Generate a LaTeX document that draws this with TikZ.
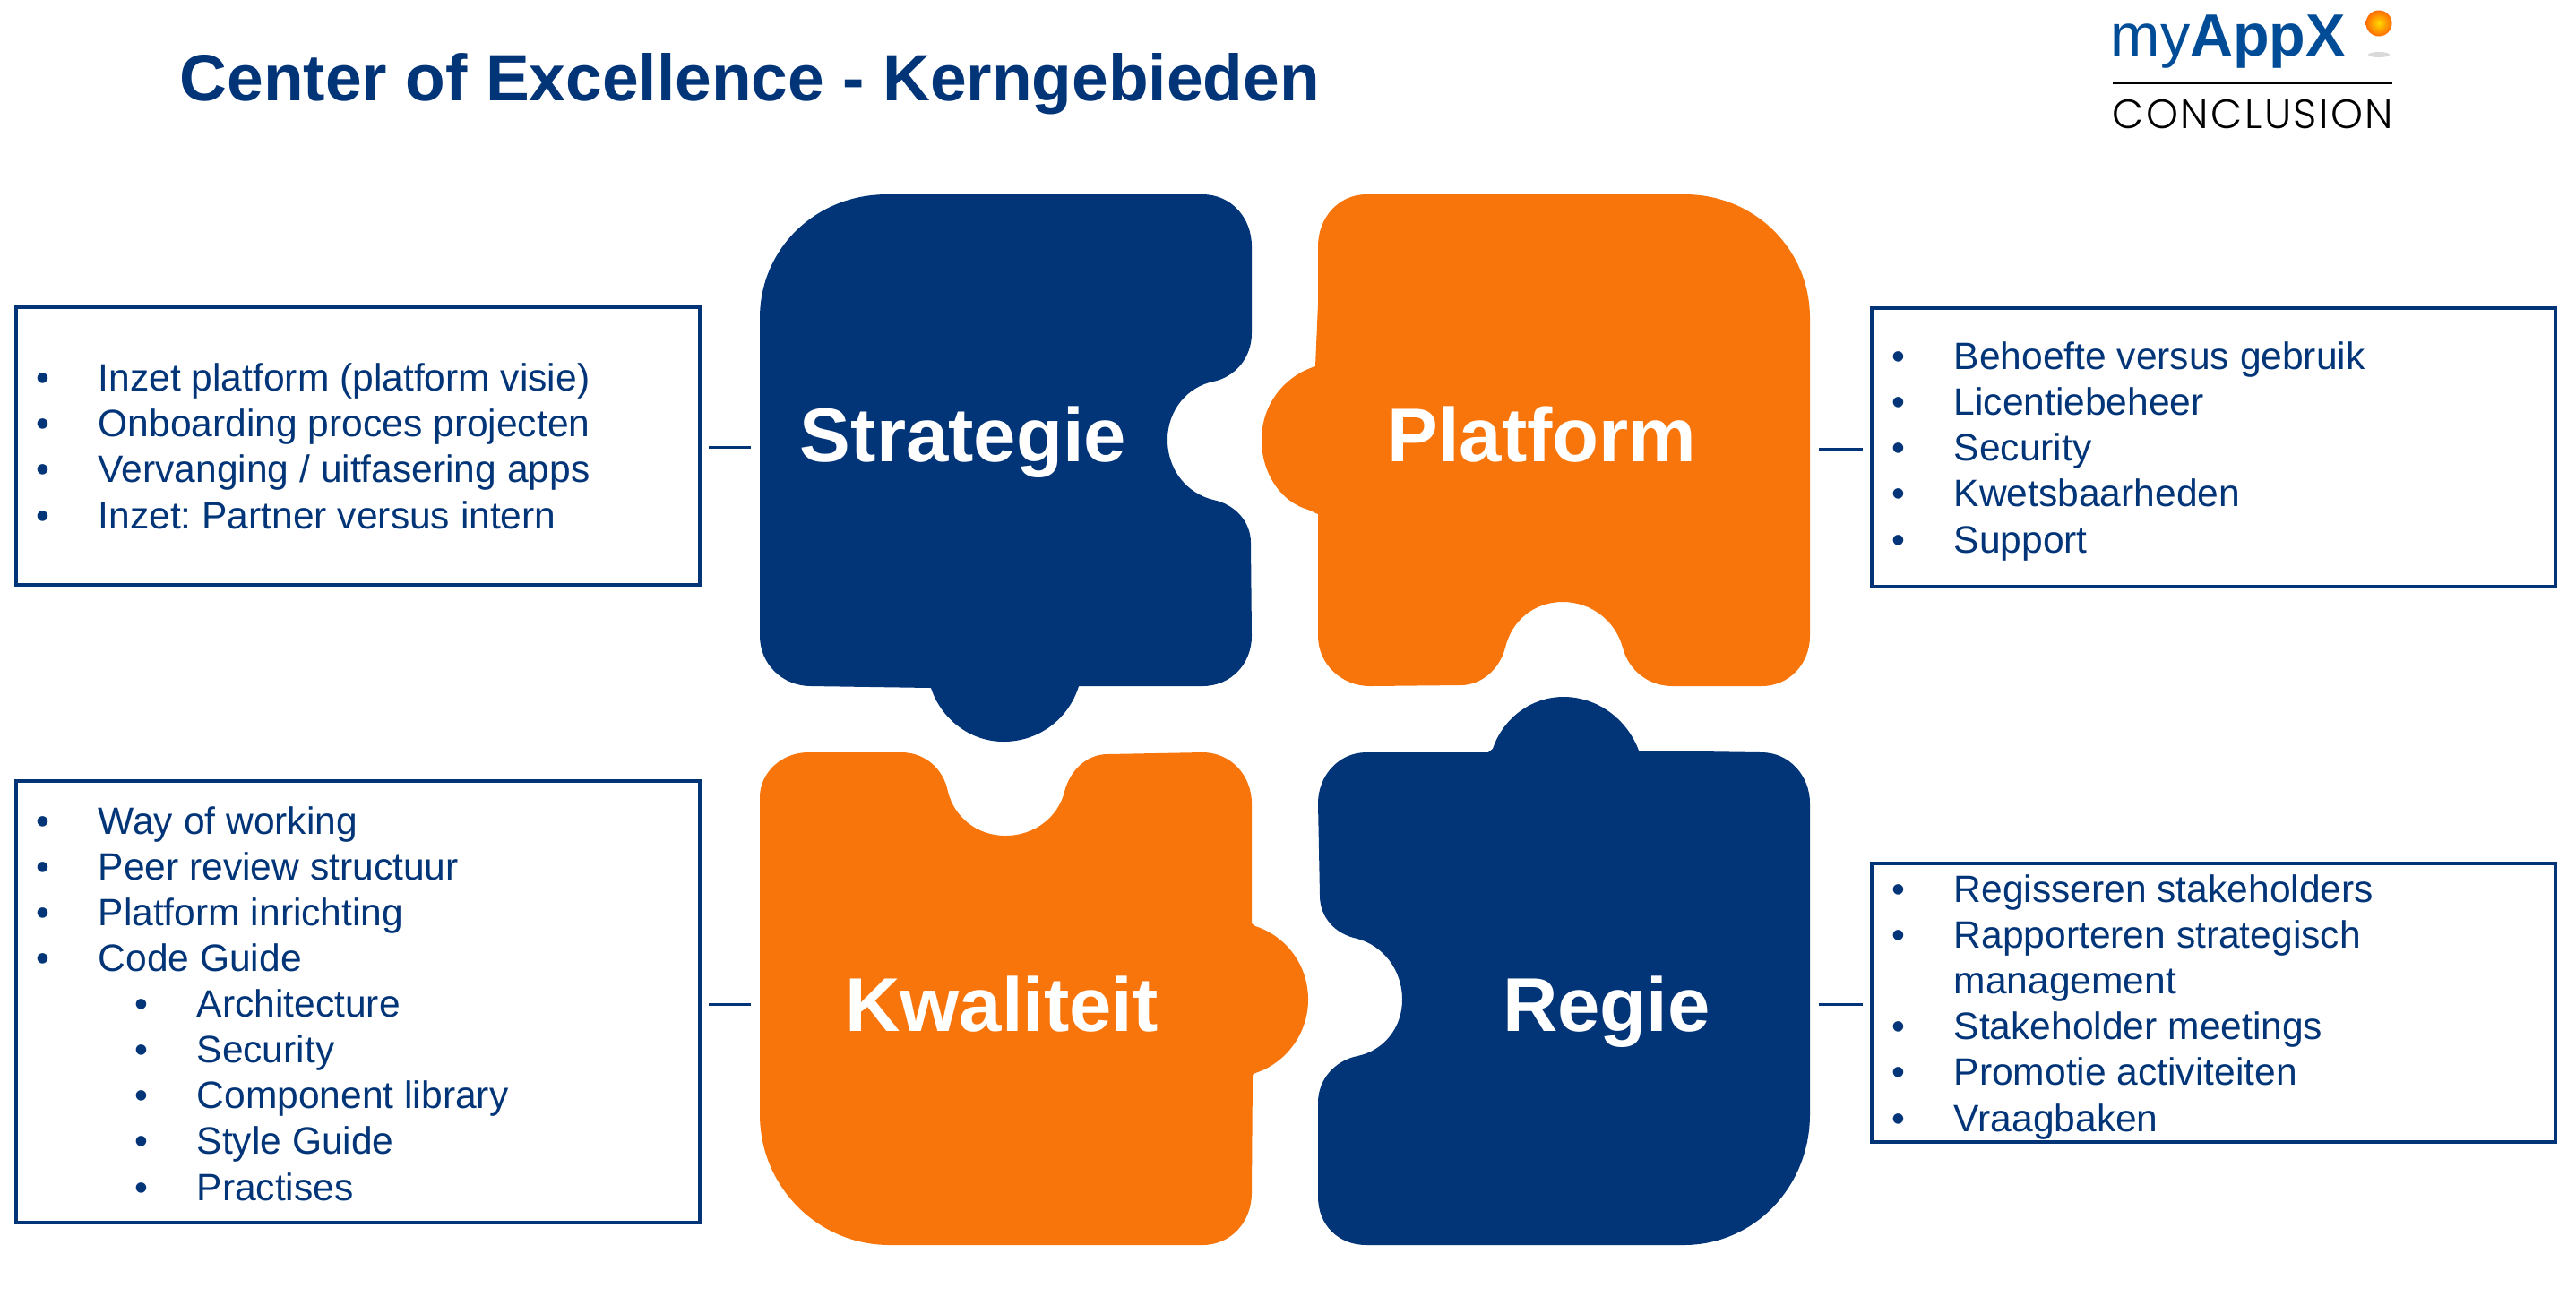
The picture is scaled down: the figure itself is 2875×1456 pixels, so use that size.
\documentclass[tikz,border=0pt]{standalone}
\usepackage{fontspec}
\setmainfont{Liberation Sans}
\newfontfamily\logofont[UprightFont=* Light,LetterSpace=5.4]{Poppins}
\usetikzlibrary{calc}
\frenchspacing

\definecolor{donkerblauw}{HTML}{023478}
\definecolor{oranje}{HTML}{F7750B}
\definecolor{logoblauw}{HTML}{004C97}

\newlength{\eenh}
\setlength{\eenh}{0.01cm}
\newcommand{\punt}[1]{\makebox[69\eenh][l]{•}#1}
\newcommand{\puntt}[1]{\hspace*{110\eenh}\makebox[69\eenh][l]{•}#1}

\tikzset{
    kop/.style={text=white,anchor=base,inner sep=0pt,font=\bfseries\fontsize{24.2pt}{24.2pt}\selectfont},
    lijstje/.style={draw=donkerblauw,line width=1pt,anchor=north west,inner sep=0pt,outer sep=0pt,minimum width=763\eenh},
    tekst/.style={text=donkerblauw,anchor=base west,inner sep=0pt,align=left,
        font=\fontsize{12.1pt}{14.52pt}\selectfont},
    verbind/.style={draw=donkerblauw,line width=0.85pt,shorten <=10\eenh,shorten >=10\eenh},
}

\begin{document}
\begin{tikzpicture}[x=0.01cm,y=-0.01cm]
\useasboundingbox (0,0) rectangle (2875,1456);

% titel en logo
\node[anchor=base west,inner sep=0pt,text=donkerblauw,font=\bfseries\fontsize{20.8pt}{20.8pt}\selectfont] (titel) at (200,112) {Center of Excellence - Kerngebieden};
\node[anchor=base west,inner sep=0pt,text=logoblauw,font=\fontsize{18.9pt}{18.9pt}\selectfont] (logo) at (2355,62) {my\textbf{AppX}};
\node[anchor=base west,inner sep=0pt,font=\logofont\fontsize{13pt}{13pt}\selectfont] (conclusion) at (2357,143) {CONCLUSION};
\draw[line width=0.35pt] (2358,93) -- (2670,93);
\shade[inner color=yellow!70!orange,outer color=orange!85!red] (2655,26) circle[radius=14.5];
\fill[black!15] (2655,61) ellipse[x radius=12,y radius=3];

% de vier puzzelstukken
\fill[donkerblauw] (848,355) .. controls (848,278) and (910,217) .. (990,217)
    -- (1342,217) .. controls (1374,217) and (1397,243) .. (1397,275)
    -- (1397,372) .. controls (1397,400) and (1378,421) .. (1354,426)
    .. controls (1325,432) and (1303,458) .. (1303,491)
    .. controls (1303,525) and (1325,551) .. (1354,558)
    .. controls (1378,563) and (1396,582) .. (1396,606)
    -- (1397,710) .. controls (1397,741) and (1374,766) .. (1342,766)
    -- (1204,766) .. controls (1193,802) and (1160,828) .. (1120,828)
    .. controls (1082,828) and (1050,802) .. (1039,768)
    -- (905,766) .. controls (873,766) and (848,741) .. (848,710) -- cycle;

\fill[oranje] (1471,275) .. controls (1471,243) and (1494,217) .. (1525,217)
    -- (1880,217) .. controls (1958,217) and (2020,278) .. (2020,355)
    -- (2020,710) .. controls (2020,741) and (1997,766) .. (1966,766)
    -- (1867,766) .. controls (1840,766) and (1818,749) .. (1811,723)
    .. controls (1803,693) and (1776,672) .. (1744,672)
    .. controls (1712,672) and (1687,693) .. (1680,723)
    .. controls (1673,749) and (1652,765) .. (1630,765)
    -- (1529,766) .. controls (1497,766) and (1471,741) .. (1471,710)
    -- (1471,574) -- (1460,569) .. controls (1429,560) and (1408,528) .. (1408,491)
    .. controls (1408,452) and (1433,420) .. (1468,409) -- (1471,340) -- cycle;

\fill[oranje] (848,890) .. controls (848,863) and (872,840) .. (902,840)
    -- (1006,840) .. controls (1032,840) and (1053,858) .. (1058,884)
    .. controls (1065,912) and (1090,933) .. (1122,933)
    .. controls (1155,933) and (1181,912) .. (1188,884)
    .. controls (1194,860) and (1213,842) .. (1236,842)
    -- (1342,840) .. controls (1374,840) and (1397,866) .. (1397,897)
    -- (1397,1031) -- (1401,1034) .. controls (1435,1045) and (1460,1077) .. (1460,1116)
    .. controls (1460,1154) and (1435,1187) .. (1401,1198) -- (1398,1200)
    -- (1397,1332) .. controls (1397,1364) and (1374,1390) .. (1342,1390)
    -- (993,1390) .. controls (913,1390) and (848,1325) .. (848,1244) -- cycle;

\fill[donkerblauw] (1471,897) .. controls (1471,866) and (1494,840) .. (1525,840)
    -- (1661,840) -- (1666,836) .. controls (1677,803) and (1708,778) .. (1745,778)
    .. controls (1783,778) and (1816,803) .. (1829,838)
    -- (1966,840) .. controls (1997,840) and (2020,866) .. (2020,897)
    -- (2020,1244) .. controls (2020,1325) and (1958,1390) .. (1879,1390)
    -- (1525,1390) .. controls (1494,1390) and (1471,1368) .. (1471,1336)
    -- (1471,1231) .. controls (1471,1205) and (1490,1184) .. (1515,1179)
    .. controls (1544,1173) and (1565,1148) .. (1565,1116)
    .. controls (1565,1083) and (1544,1056) .. (1515,1048)
    .. controls (1490,1043) and (1473,1024) .. (1473,1000) -- cycle;

\node[kop] (strategie) at (1075,515) {Strategie};
\node[kop] (platform) at (1721,515) {Platform};
\node[kop] (kwaliteit) at (1118,1151) {Kwaliteit};
\node[kop] (regie) at (1793,1151) {Regie};

% randpunten voor de verbindingen
\coordinate (randS) at (848,499);
\coordinate (randP) at (2020,501);
\coordinate (randK) at (848,1121);
\coordinate (randR) at (2020,1121);

% kaders
\node[lijstje,minimum height=310\eenh] (boxS) at (18,343) {};
\node[lijstje,minimum height=311\eenh] (boxP) at (2089,344) {};
\node[lijstje,minimum height=493\eenh] (boxK) at (18,872) {};
\node[lijstje,minimum height=311\eenh] (boxR) at (2089,964) {};

\node[tekst] (lijstS) at (40,590) {\punt{Inzet platform (platform visie)}\\\punt{Onboarding proces projecten}\\\punt{Vervanging / uitfasering apps}\\\punt{Inzet: Partner versus intern}};
\node[tekst] (lijstP) at (2111,617) {\punt{Behoefte versus gebruik}\\\punt{Licentiebeheer}\\\punt{Security}\\\punt{Kwetsbaarheden}\\\punt{Support}};
\node[tekst] (lijstK) at (40,1340) {\punt{Way of working}\\\punt{Peer review structuur}\\\punt{Platform inrichting}\\\punt{Code Guide}\\\puntt{Architecture}\\\puntt{Security}\\\puntt{Component library}\\\puntt{Style Guide}\\\puntt{Practises}};
\node[tekst] (lijstR) at (2111,1263) {\punt{Regisseren stakeholders}\\\punt{Rapporteren strategisch}\\\hspace*{69\eenh}management\\\punt{Stakeholder meetings}\\\punt{Promotie activiteiten}\\\punt{Vraagbaken}};

\draw[verbind] (boxS.east |- randS) -- (randS);
\draw[verbind] (boxP.west |- randP) -- (randP);
\draw[verbind] (boxK.east |- randK) -- (randK);
\draw[verbind] (boxR.west |- randR) -- (randR);

\end{tikzpicture}
\end{document}
